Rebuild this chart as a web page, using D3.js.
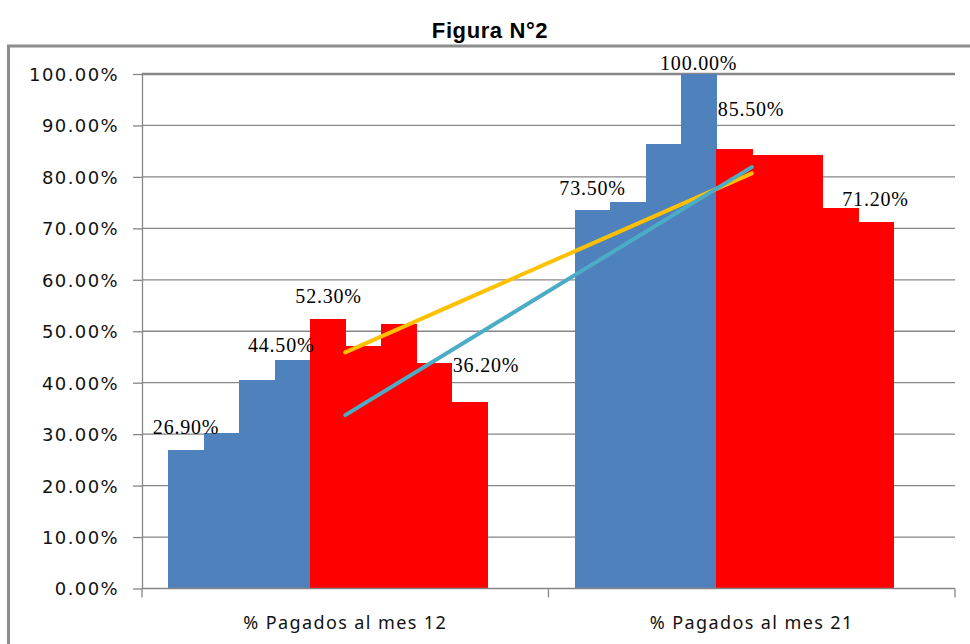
<!DOCTYPE html>
<html>
<head>
<meta charset="utf-8">
<script src="https://cdn.jsdelivr.net/npm/d3@7"></script>
<style>
  body { margin: 0; background: #fff; }
</style>
</head>
<body>
<div id="chart"></div>
<script>
// --- data ---
const categories = ['% Pagados al mes 12', '% Pagados al mes 21'];
const slots = d3.range(10);               // 10 series slots per category, the last one is empty
const blueValues = [[26.9, 30.3, 40.5, 44.5], [73.5, 75.1, 86.4, 100.0]];
const redValues = [[52.3, 47.2, 51.4, 43.9, 36.2], [85.5, 84.3, 84.3, 74.0, 71.2]];
const labelledSlots = [0, 3, 4, 8];
const yTicks = d3.range(0, 101, 10);
const trendYellow = [45.9, 80.7];
const trendCyan = [33.7, 81.9];
const title = 'Figura N°2';

const width = 970, height = 644;
const blue = '#4F81BD', red = '#FF0000', grid = '#868686';

const svg = d3.select('#chart').append('svg')
  .attr('width', width).attr('height', height);

// outer frame
svg.append('rect')
  .attr('x', 8.5).attr('y', 46)
  .attr('width', 1000).attr('height', 700)
  .attr('fill', 'none').attr('stroke', '#8c8c8c').attr('stroke-width', 3);

svg.append('text')
  .attr('x', 490).attr('y', 38)
  .attr('text-anchor', 'middle')
  .style('font-family', '"Liberation Sans", Arial, sans-serif')
  .style('font-weight', 'bold')
  .style('font-size', '22px')
  .style('letter-spacing', '0.6px')
  .text(title);

const x0 = d3.scaleBand().domain(categories).range([142, 955])
  .paddingInner(0.13).paddingOuter(0.065);
const x1 = d3.scaleBand().domain(slots).range([0, x0.bandwidth()]);
const y = d3.scaleLinear().domain([0, 100]).range([588.5, 74]);

// gridlines
svg.append('g').selectAll('line').data(yTicks.filter(d => d > 0)).enter().append('line')
  .attr('x1', 142).attr('x2', 955)
  .attr('y1', d => y(d)).attr('y2', d => y(d))
  .attr('stroke', grid)
  .attr('stroke-width', d => d === 100 ? 2.5 : 1.3);

// bars
const rows = [];
categories.forEach((c, i) => {
  blueValues[i].forEach((v, j) => rows.push({ cat: c, gi: i, slot: j, value: v, color: blue }));
  redValues[i].forEach((v, j) => rows.push({ cat: c, gi: i, slot: 4 + j, value: v, color: red }));
});

svg.append('g').attr('shape-rendering', 'crispEdges')
  .selectAll('rect').data(rows).enter().append('rect')
  .attr('x', d => Math.round(x0(d.cat) + x1(d.slot)))
  .attr('y', d => y(d.value))
  .attr('width', d => Math.round(x0(d.cat) + x1(d.slot) + x1.bandwidth()) - Math.round(x0(d.cat) + x1(d.slot)) + 1)
  .attr('height', d => y(0) - y(d.value))
  .attr('fill', d => d.color);

// y axis
const gy = svg.append('g').attr('transform', 'translate(142,0)')
  .call(d3.axisLeft(y).tickValues(yTicks).tickSize(9).tickSizeOuter(0)
    .tickFormat(d => d.toFixed(2) + '%'));
gy.select('.domain').attr('stroke', grid).attr('stroke-width', 1.3);
gy.selectAll('.tick line').attr('stroke', grid).attr('stroke-width', 1.3);
gy.selectAll('.tick text')
  .attr('x', -23).attr('dy', '0.36em')
  .style('font-family', '"DejaVu Sans", Verdana, sans-serif')
  .style('font-size', '18px')
  .style('letter-spacing', '1.4px')
  .attr('fill', '#111');

// x axis
const gx = svg.append('g').attr('transform', 'translate(0,588.5)');
gx.append('line').attr('x1', 142).attr('x2', 955)
  .attr('stroke', grid).attr('stroke-width', 1.3);
const xTickPos = [x0.range()[0], x0.range()[0] + x0.step(), x0.range()[1]];
gx.selectAll('.xt').data(xTickPos).enter().append('line')
  .attr('x1', d => d).attr('x2', d => d).attr('y1', 0).attr('y2', 9)
  .attr('stroke', grid).attr('stroke-width', 1.3);
gx.selectAll('.xl').data(categories).enter().append('text')
  .attr('x', d => x0(d) + x0.bandwidth() / 2)
  .attr('y', 40)
  .attr('text-anchor', 'middle')
  .style('font-family', '"Noto Sans", sans-serif')
  .style('font-size', '18px')
  .style('letter-spacing', '1.4px')
  .attr('fill', '#111')
  .text(d => d);

// trend lines
const trendX = categories.map(c => x0(c) + x1(5));
[[trendYellow, '#FFC000'], [trendCyan, '#4BACC6']].forEach(([vals, col]) => {
  svg.append('path')
    .datum(vals)
    .attr('d', d3.line().x((d, i) => trendX[i]).y(d => y(d)))
    .attr('fill', 'none')
    .attr('stroke', col)
    .attr('stroke-width', 4)
    .attr('stroke-linecap', 'round');
});

// data labels (hand-placed in the original, so each has its own nudge)
const labelNudge = {
  '0-0': [0, 23], '0-3': [-11, 15], '0-4': [1, 23], '0-8': [17, 37],
  '1-0': [0, 22], '1-3': [0, 11], '1-4': [17, 40], '1-8': [0, 23]
};
svg.append('g').selectAll('text')
  .data(rows.filter(d => labelledSlots.includes(d.slot)))
  .enter().append('text')
  .attr('x', d => x0(d.cat) + x1(d.slot) + x1.bandwidth() / 2 + labelNudge[d.gi + '-' + d.slot][0])
  .attr('y', d => y(d.value) - labelNudge[d.gi + '-' + d.slot][1] + 7)
  .attr('text-anchor', 'middle')
  .style('font-family', '"Liberation Serif", "Times New Roman", serif')
  .style('font-size', '20px')
  .style('letter-spacing', '0.8px')
  .text(d => d.value.toFixed(2) + '%');
</script>
</body>
</html>
